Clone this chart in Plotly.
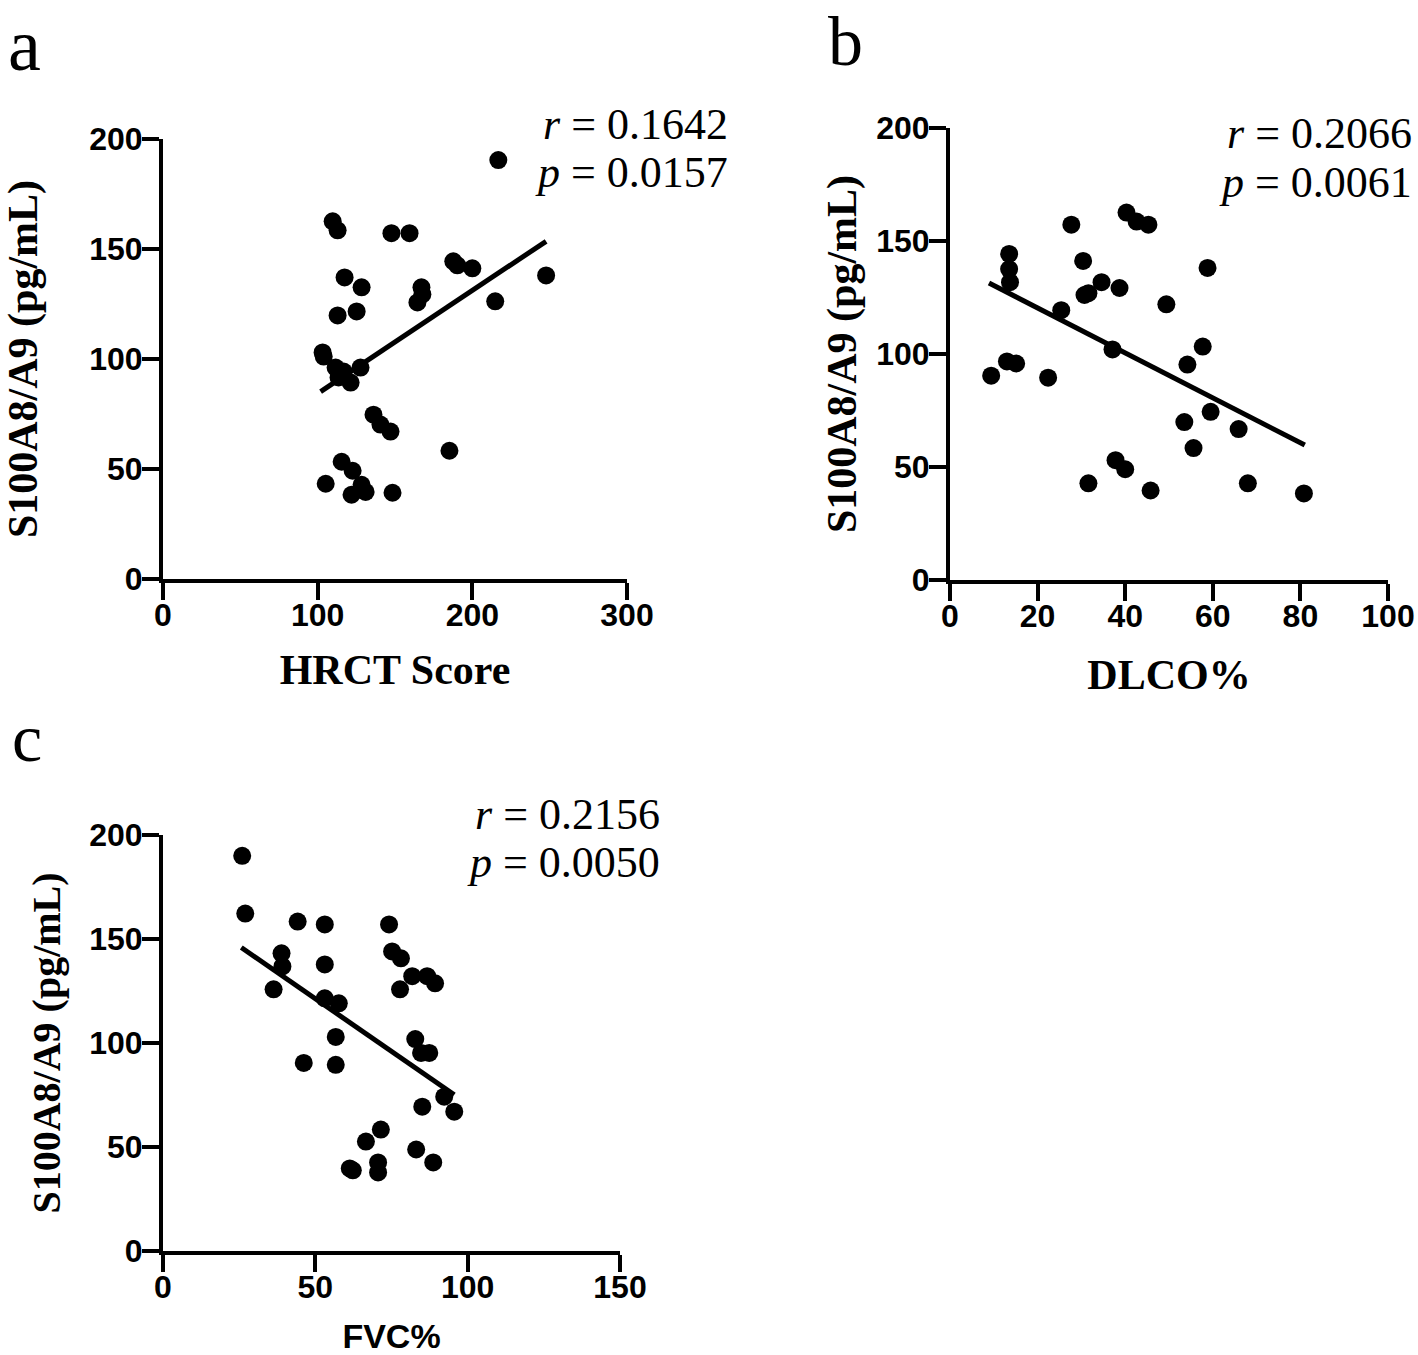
import plotly.graph_objects as go

# ---- Panel a: HRCT Score vs S100A8/A9 ----
hrct_x = [216.8, 109.7, 112.9, 147.7, 159.4, 187.7, 190.3, 200.0, 247.7, 117.4,
          128.4, 167.1, 167.7, 164.5, 214.8, 112.9, 125.2, 103.2, 103.9, 111.6,
          116.8, 113.5, 121.3, 127.7, 136.1, 140.6, 147.1, 185.2, 115.5, 122.6,
          128.4, 131.0, 121.9, 105.2, 148.4]
hrct_y = [190.4, 162.6, 158.5, 157.2, 157.2, 144.4, 142.6, 141.2, 138.0, 137.1,
          132.6, 132.6, 129.4, 125.7, 126.2, 119.8, 121.6, 103.0, 101.1, 96.1,
          94.3, 91.6, 89.3, 96.1, 74.7, 70.2, 67.0, 58.3, 53.3, 49.2,
          42.8, 39.6, 38.3, 43.3, 39.2]
hrct_fit_x = [101.9, 247.7]
hrct_fit_y = [85.2, 153.5]

# ---- Panel b: DLCO% vs S100A8/A9 ----
dlco_x = [27.7, 40.3, 42.6, 45.3, 13.5, 13.5, 13.7, 30.4, 34.6, 38.7,
          30.7, 31.6, 49.4, 25.4, 37.1, 13.0, 15.1, 9.4, 22.4, 58.8,
          54.2, 57.7, 59.5, 53.5, 65.9, 55.6, 37.8, 40.0, 45.8, 68.0,
          80.8, 31.6]
dlco_y = [157.2, 162.6, 158.6, 157.2, 144.3, 137.6, 131.8, 141.2, 131.8, 129.2,
          126.1, 126.9, 122.0, 119.4, 102.0, 96.7, 95.8, 90.4, 89.5, 138.1,
          95.3, 103.3, 74.4, 69.9, 66.8, 58.4, 53.0, 49.0, 39.6, 42.8,
          38.3, 42.8]
dlco_fit_x = [8.9, 81.0]
dlco_fit_y = [131.4, 59.7]

# ---- Panel c: FVC% vs S100A8/A9 ----
fvc_x = [26.0, 27.0, 44.2, 53.1, 74.2, 38.9, 39.2, 36.3, 53.1, 75.2,
         78.1, 81.8, 86.7, 89.3, 77.8, 53.1, 57.7, 56.7, 46.2, 56.7,
         82.8, 84.7, 87.4, 92.3, 85.1, 95.6, 71.5, 66.6, 83.1, 88.7,
         61.3, 62.3, 70.6, 70.6]
fvc_y = [190.0, 162.2, 158.4, 157.0, 157.0, 143.1, 136.8, 125.8, 137.8, 144.0,
         140.7, 132.1, 132.1, 128.7, 125.8, 121.5, 119.1, 102.9, 90.4, 89.5,
         101.9, 95.2, 95.2, 74.2, 69.4, 67.0, 58.4, 52.6, 48.8, 42.6,
         39.7, 38.8, 42.6, 37.8]
fvc_fit_x = [25.7, 95.6]
fvc_fit_y = [145.9, 75.1]

y_ticks = [0, 50, 100, 150, 200]
hrct_ticks = [0, 100, 200, 300]
dlco_ticks = [0, 20, 40, 60, 80, 100]
fvc_ticks = [0, 50, 100, 150]

stats = [("0.1642", "0.0157"), ("0.2066", "0.0061"), ("0.2156", "0.0050")]
panel_labels = ["a", "b", "c"]
y_title = "S100A8/A9 (pg/mL)"
x_titles = ["HRCT Score", "DLCO%", "FVC%"]

W, H = 1418, 1355
SERIF = "Liberation Serif"
SANS = "Liberation Sans"

fig = go.Figure()

panels = [
    (hrct_x, hrct_y, hrct_fit_x, hrct_fit_y, "x", "y"),
    (dlco_x, dlco_y, dlco_fit_x, dlco_fit_y, "x2", "y2"),
    (fvc_x, fvc_y, fvc_fit_x, fvc_fit_y, "x3", "y3"),
]
for px_, py_, fx, fy, xa, ya in panels:
    fig.add_trace(go.Scatter(x=fx, y=fy, mode="lines", xaxis=xa, yaxis=ya,
                             line=dict(color="black", width=5), showlegend=False))
    fig.add_trace(go.Scatter(x=px_, y=py_, mode="markers", xaxis=xa, yaxis=ya,
                             marker=dict(size=18, color="black"), showlegend=False))


def px_x(p):
    return p / W


def px_y(p):
    return 1 - p / H


def axis_common(is_x):
    return dict(showline=True, linewidth=4, linecolor="black", ticks="outside",
                ticklen=17, tickwidth=4, tickcolor="black", showgrid=False,
                zeroline=False, mirror=False, automargin=False,
                ticklabelstandoff=-12 if is_x else -7,
                tickfont=dict(family=SANS, size=32, color="black", weight="bold"))


def serif_bold(size):
    return dict(family=SERIF, size=size, color="black", weight="bold")


xa = axis_common(True)
xa.update(domain=[px_x(163), px_x(627)], range=[0, 300], tickvals=hrct_ticks,
          anchor="y",
          title=dict(text=x_titles[0], standoff=23, font=serif_bold(42)))
ya = axis_common(False)
ya.update(domain=[px_y(579), px_y(139)], range=[0, 200], tickvals=y_ticks,
          anchor="x",
          title=dict(text=y_title, standoff=44, font=serif_bold(42)))

xb = axis_common(True)
xb.update(domain=[px_x(950), px_x(1388)], range=[0, 100], tickvals=dlco_ticks,
          anchor="y2",
          title=dict(text=x_titles[1], standoff=27, font=serif_bold(42)))
yb = axis_common(False)
yb.update(domain=[px_y(580), px_y(128)], range=[0, 200], tickvals=y_ticks,
          anchor="x2",
          title=dict(text=y_title, standoff=8, font=serif_bold(42)))

xc = axis_common(True)
xc.update(domain=[px_x(163), px_x(620)], range=[0, 150], tickvals=fvc_ticks,
          anchor="y3",
          title=dict(text=x_titles[2], standoff=33,
                     font=dict(family=SANS, size=34, color="black", weight="bold")))
yc = axis_common(False)
yc.update(domain=[px_y(1251), px_y(835)], range=[0, 200], tickvals=y_ticks,
          anchor="x3",
          title=dict(text=y_title, standoff=17, font=serif_bold(40)))

fig.update_layout(
    width=W, height=H, margin=dict(l=0, r=0, t=0, b=0, autoexpand=False),
    paper_bgcolor="white", plot_bgcolor="white",
    xaxis=xa, yaxis=ya, xaxis2=xb, yaxis2=yb, xaxis3=xc, yaxis3=yc,
)

# stats annotations
stat_pos = [(730, 125, 172), (1414, 133, 183), (662, 815, 862)]
for (r, p), (xr, yr, yp) in zip(stats, stat_pos):
    fig.add_annotation(x=px_x(xr), y=px_y(yr), xref="paper", yref="paper",
                       xanchor="right", yanchor="middle", showarrow=False,
                       text=f"<i>r</i> = {r}",
                       font=dict(family=SERIF, size=44, color="black"))
    fig.add_annotation(x=px_x(xr), y=px_y(yp), xref="paper", yref="paper",
                       xanchor="right", yanchor="middle", showarrow=False,
                       text=f"<i>p</i> = {p}",
                       font=dict(family=SERIF, size=44, color="black"))

# panel letters (top-anchored so their boxes stay inside the page)
letter_specs = [(6, 2, 74, "top"), (826, 1, 70, "top"), (10, 738, 68, "middle")]
for lab, (lx, ly, ls, anc) in zip(panel_labels, letter_specs):
    fig.add_annotation(x=px_x(lx), y=px_y(ly), xref="paper", yref="paper",
                       xanchor="left", yanchor=anc, showarrow=False,
                       text=lab, font=dict(family=SERIF, size=ls, color="black"))

# remove the default page margin so the figure sits at the window's corner
fig.write_html("out.html", config={"displayModeBar": False},
               post_script="document.body.style.margin='0';")
